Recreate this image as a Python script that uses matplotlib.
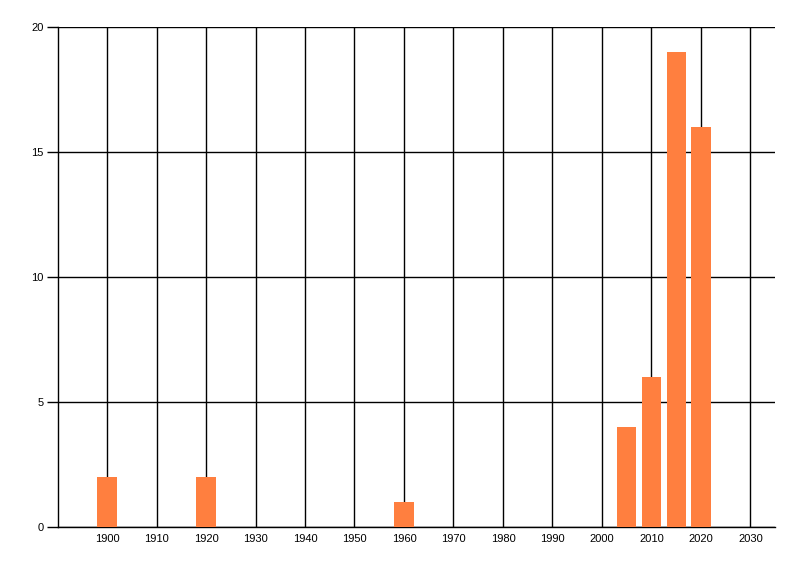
import matplotlib.pyplot as plt

years = [1900, 1920, 1960, 2005, 2010, 2015, 2020]
counts = [2, 2, 1, 4, 6, 19, 16]
x_ticks = list(range(1900, 2031, 10))
y_ticks = [0, 5, 10, 15, 20]

plt.rcParams['font.family'] = ['Liberation Sans', 'DejaVu Sans']

fig = plt.figure(figsize=(8, 5.76), dpi=100)
ax = fig.add_axes([0.0719, 0.0851, 0.969 - 0.0719, 0.9537 - 0.0851])

ax.bar(years, counts, width=3.9, color='#ff7f3f', zorder=3)

ax.set_xlim(1890, 2035)
ax.set_ylim(0, 20)
ax.set_xticks(x_ticks)
ax.set_yticks(y_ticks)
ax.tick_params(axis='x', length=0, labelsize=8, pad=5)
ax.tick_params(axis='y', length=8, width=1, labelsize=8, pad=2)
ax.grid(True, color='black', linewidth=1, zorder=0)

for side in ['top', 'right']:
    ax.spines[side].set_visible(False)
for side in ['left', 'bottom']:
    ax.spines[side].set_linewidth(1)
    ax.spines[side].set_color('black')

fig.savefig('out.png', dpi=100)
